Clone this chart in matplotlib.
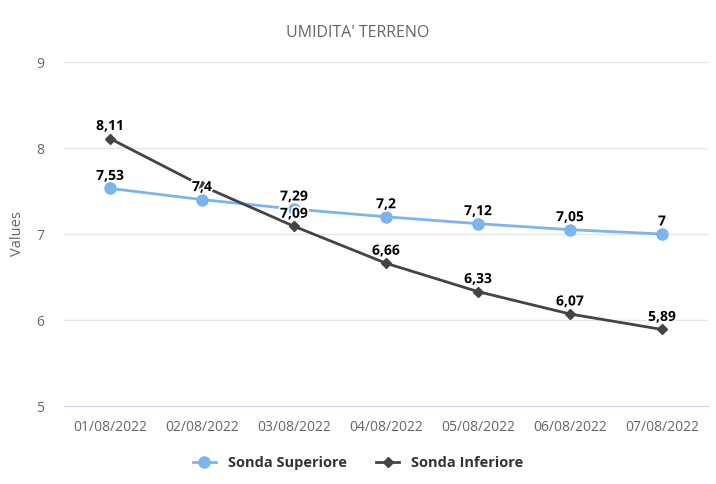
import matplotlib.pyplot as plt
import matplotlib.patheffects as pe

# data
dates = ["01/08/2022", "02/08/2022", "03/08/2022", "04/08/2022",
         "05/08/2022", "06/08/2022", "07/08/2022"]
superiore = [7.53, 7.4, 7.29, 7.2, 7.12, 7.05, 7.0]
inferiore = [8.11, 7.56, 7.09, 6.66, 6.33, 6.07, 5.89]
y_ticks = [5, 6, 7, 8, 9]

blue = "#7cb5ec"
dark = "#434348"

plt.rcParams['font.family'] = ['Open Sans', 'DejaVu Sans']

fig = plt.figure(figsize=(7.16, 4.84), dpi=100)
ax = fig.add_axes([64 / 716, 1 - 406 / 484, 644 / 716, 344 / 484])

x = list(range(len(dates)))
ax.plot(x, superiore, color=blue, lw=2, marker="o", ms=8, label="Sonda Superiore", zorder=3)
ax.plot(x, inferiore, color=dark, lw=2, marker="D", ms=5.5, label="Sonda Inferiore", zorder=3)

def fmt(v):
    s = ("%.2f" % v).rstrip("0").rstrip(".")
    return s.replace(".", ",")

outline = [pe.withStroke(linewidth=2.5, foreground="white")]
# the chart hides a label that would overlap another one (second point, lower probe)
hidden = {(1, 1)}
for k, series in enumerate((superiore, inferiore)):
    for i, v in enumerate(series):
        if (k, i) in hidden:
            continue
        ax.annotate(fmt(v), (i, v), xytext=(0, 4), textcoords="offset points",
                    ha="center", va="bottom", fontsize=10, fontweight="bold",
                    color="#000000", path_effects=outline, zorder=5)

ax.set_xlim(-0.5, len(dates) - 0.5)
ax.set_ylim(5, 9)
ax.set_yticks(y_ticks)
ax.set_xticks(x)
ax.set_xticklabels(dates)
ax.tick_params(axis="both", colors="#666666", labelsize=10, length=0)
ax.tick_params(axis="x", pad=10)
ax.tick_params(axis="y", pad=14)
ax.grid(axis="y", color="#e6e6e6", lw=1)
ax.set_axisbelow(True)
for s in ("top", "right", "left"):
    ax.spines[s].set_visible(False)
ax.spines["bottom"].set_color("#ccd6eb")

ax.set_ylabel("Values", color="#666666", fontsize=10.5, labelpad=8)
fig.suptitle("UMIDITA' TERRENO", y=1 - 33 / 484, va="center", color="#666666", fontsize=11.5)

fig.legend(loc="center", bbox_to_anchor=(0.5, 1 - 463 / 484), ncol=2, frameon=False,
           prop={"weight": "bold", "size": 10.5}, handlelength=1.6,
           columnspacing=2, labelcolor="#333333")

fig.savefig("out.png", dpi=100)
